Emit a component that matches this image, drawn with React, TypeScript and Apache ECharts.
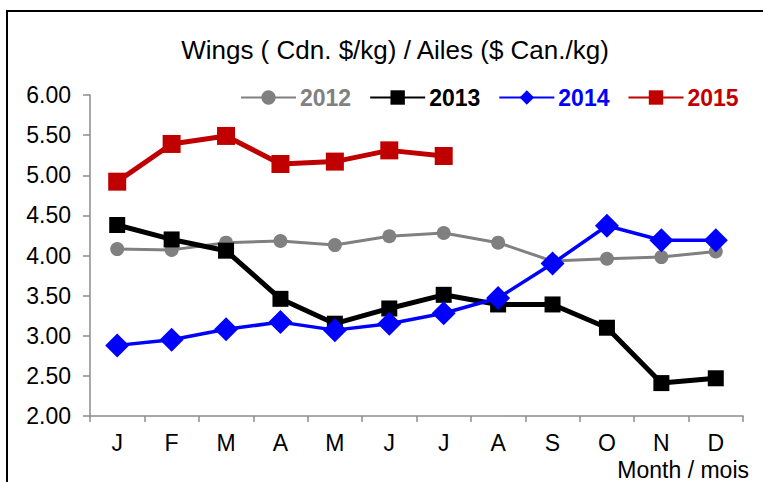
import React, { useEffect, useRef } from "react";
import * as echarts from "echarts";

const months = ["J", "F", "M", "A", "M", "J", "J", "A", "S", "O", "N", "D"];
const s2012 = [4.08, 4.07, 4.16, 4.18, 4.13, 4.24, 4.28, 4.16, 3.93, 3.96, 3.98, 4.05];
const s2013 = [4.38, 4.2, 4.06, 3.46, 3.15, 3.34, 3.51, 3.39, 3.39, 3.1, 2.41, 2.47];
const s2014 = [2.88, 2.95, 3.08, 3.17, 3.07, 3.15, 3.28, 3.47, 3.9, 4.37, 4.19, 4.19];
const s2015 = [4.92, 5.39, 5.49, 5.14, 5.17, 5.31, 5.24];
const yTicks = { min: 2, max: 6, interval: 0.5 };

const FONT = "'Liberation Sans', Arial, sans-serif";

export default function App() {
  const ref = useRef<HTMLDivElement>(null);
  useEffect(() => {
    if (!ref.current) return;
    const chart = echarts.init(ref.current, null, { renderer: "svg" });
    const mk = (name: string, data: number[], color: string, width: number, symbol: string, size: number) => ({
      name,
      type: "line",
      data,
      symbol,
      symbolSize: size,
      showAllSymbol: true,
      lineStyle: { color, width },
      itemStyle: { color },
      emphasis: { disabled: true },
    });
    chart.setOption({
      animation: false,
      textStyle: { fontFamily: FONT },
      graphic: [
        {
          type: "polyline",
          shape: { points: [[7, 560], [7, 11], [800, 11]] },
          style: { fill: "none", stroke: "#000", lineWidth: 2 },
          silent: true,
        },
        {
          type: "text",
          x: 395,
          y: 50,
          style: {
            text: "Wings ( Cdn. $/kg) / Ailes ($ Can./kg)",
            font: `26px ${FONT}`,
            fill: "#000",
            align: "center",
            verticalAlign: "middle",
          },
        },
        {
          type: "text",
          x: 749,
          y: 470,
          style: {
            text: "Month / mois",
            font: `23px ${FONT}`,
            fill: "#000",
            align: "right",
            verticalAlign: "middle",
          },
        },
      ],
      legend: {
        left: 240,
        top: 86,
        padding: 0,
        itemWidth: 55,
        itemHeight: 18,
        itemGap: 18,
        textStyle: { fontSize: 23, fontWeight: "bold", fontFamily: FONT, padding: [0, 0, 0, -1] },
        data: [
          { name: "2012", textStyle: { color: "#808080" } },
          { name: "2013", textStyle: { color: "#000000" } },
          { name: "2014", textStyle: { color: "#0000FF" } },
          { name: "2015", textStyle: { color: "#C00000" } },
        ],
      },
      grid: { left: 90, right: 20, top: 95, bottom: 66, containLabel: false },
      xAxis: {
        type: "category",
        data: months,
        boundaryGap: true,
        axisLine: { lineStyle: { color: "#8c8c8c", width: 1.5 } },
        axisTick: { show: true, length: 6, lineStyle: { color: "#8c8c8c", width: 1.5 } },
        axisLabel: { color: "#000", fontSize: 23, fontFamily: FONT, margin: 15, interval: 0 },
        splitLine: { show: false },
      },
      yAxis: {
        type: "value",
        min: yTicks.min,
        max: yTicks.max,
        interval: yTicks.interval,
        axisLine: { show: true, lineStyle: { color: "#8c8c8c", width: 1.5 } },
        axisTick: { show: true, length: 7, lineStyle: { color: "#8c8c8c", width: 1.5 } },
        axisLabel: {
          color: "#000",
          fontSize: 23,
          fontFamily: FONT,
          margin: 19,
          formatter: (v: number) => v.toFixed(2),
        },
        splitLine: { show: false },
      },
      series: [
        mk("2012", s2012, "#808080", 3, "circle", 14),
        mk("2013", s2013, "#000000", 5, "rect", 16),
        mk("2014", s2014, "#0000FF", 3.5, "diamond", 24),
        mk("2015", s2015, "#C00000", 5, "rect", 18),
      ],
    });
    return () => chart.dispose();
  }, []);
  return (
    <div
      ref={ref}
      style={{ position: "fixed", left: 0, top: 0, width: 763, height: 482, background: "#fff" }}
    />
  );
}
